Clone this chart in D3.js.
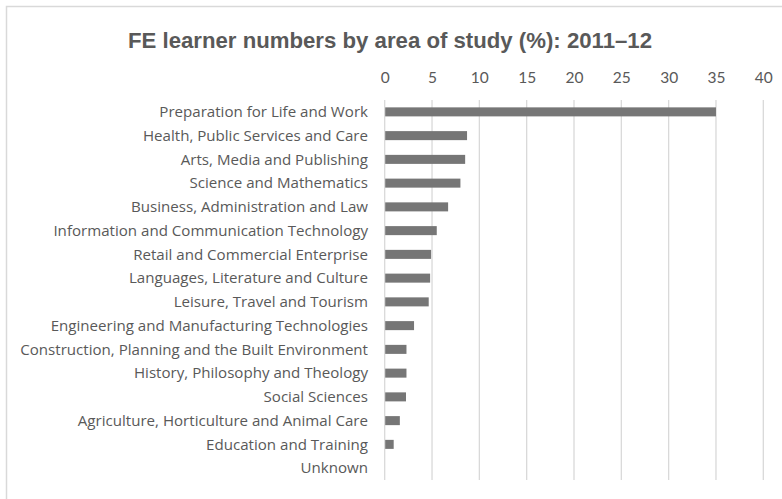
<!DOCTYPE html>
<html>
<head>
<meta charset="utf-8">
<script src="https://cdn.jsdelivr.net/npm/d3@7"></script>
<style>
  body { margin: 0; background: #fff; }
  svg { display: block; }
</style>
</head>
<body>
<div class="container"></div>
<script>
const title = "FE learner numbers by area of study (%): 2011–12";

const categories = [
  "Preparation for Life and Work",
  "Health, Public Services and Care",
  "Arts, Media and Publishing",
  "Science and Mathematics",
  "Business, Administration and Law",
  "Information and Communication Technology",
  "Retail and Commercial Enterprise",
  "Languages, Literature and Culture",
  "Leisure, Travel and Tourism",
  "Engineering and Manufacturing Technologies",
  "Construction, Planning and the Built Environment",
  "History, Philosophy and Theology",
  "Social Sciences",
  "Agriculture, Horticulture and Animal Care",
  "Education and Training",
  "Unknown",
];

const shares = [35.0, 8.7, 8.5, 8.0, 6.7, 5.5, 4.9, 4.8, 4.65, 3.1, 2.3, 2.3, 2.25, 1.6, 0.95, 0];

const tickValues = [0, 5, 10, 15, 20, 25, 30, 35, 40];

const width = 782;
const height = 499;
const plot = { left: 384.7, right: 763.3, top: 100, bottom: 480 };

const svg = d3.select(".container")
  .append("svg")
  .attr("width", width)
  .attr("height", height);

// chart border (Excel style frame)
svg.append("rect")
  .attr("x", 6.5)
  .attr("y", 6.5)
  .attr("width", width + 10)
  .attr("height", height + 10)
  .attr("fill", "#fff")
  .attr("stroke", "#d9d9d9")
  .attr("stroke-width", 1.5);

const x = d3.scaleLinear()
  .domain([0, 40])
  .range([plot.left, plot.right]);

const y = d3.scaleBand()
  .domain(categories)
  .range([plot.top, plot.bottom])
  .paddingInner(0.62)
  .paddingOuter(0.31);

svg.append("text")
  .attr("x", 390)
  .attr("y", 48)
  .attr("text-anchor", "middle")
  .attr("font-family", "Liberation Sans, Arial, sans-serif")
  .attr("font-weight", "bold")
  .attr("font-size", 22.2)
  .attr("fill", "#595959")
  .text(title);

// vertical gridlines
svg.append("g")
  .selectAll("line")
  .data(tickValues)
  .join("line")
  .attr("x1", d => x(d))
  .attr("x2", d => x(d))
  .attr("y1", plot.top)
  .attr("y2", plot.bottom)
  .attr("stroke", "#d9d9d9")
  .attr("stroke-width", 1.3);

// top axis labels
const axis = svg.append("g")
  .attr("transform", `translate(0,${plot.top})`)
  .call(d3.axisTop(x).tickValues(tickValues).tickSize(0).tickPadding(17));
axis.select(".domain").remove();
axis.selectAll("text")
  .attr("font-family", "Lato, Calibri, sans-serif")
  .attr("font-size", 15.5)
  .attr("fill", "#595959");

// bars
svg.append("g")
  .selectAll("rect")
  .data(categories)
  .join("rect")
  .attr("x", x(0) + 0.5)
  .attr("y", d => y(d))
  .attr("width", (d, i) => Math.max(0, x(shares[i]) - x(0) - 0.5))
  .attr("height", y.bandwidth())
  .attr("fill", "#767676");

// category labels
svg.append("g")
  .selectAll("text")
  .data(categories)
  .join("text")
  .attr("x", 368)
  .attr("y", d => y(d) + y.bandwidth() / 2)
  .attr("dy", "0.35em")
  .attr("text-anchor", "end")
  .attr("font-family", "Open Sans, sans-serif")
  .attr("font-size", 15.1)
  .attr("fill", "#595959")
  .text(d => d);
</script>
</body>
</html>
